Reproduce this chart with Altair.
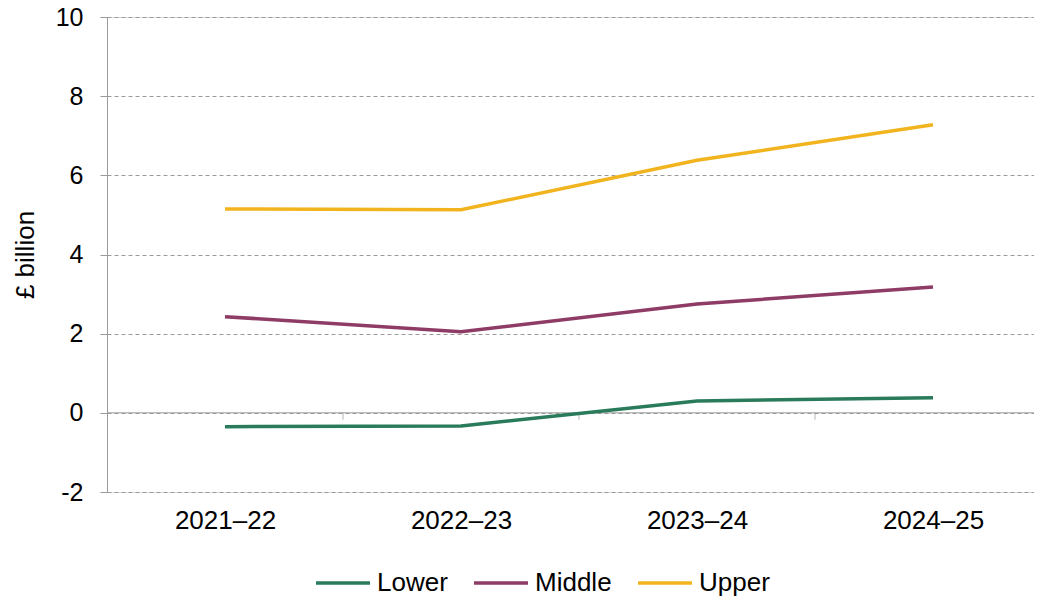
import altair as alt
import pandas as pd

years = ["2021–22", "2022–23", "2023–24", "2024–25"]
series = ["Lower", "Middle", "Upper"]
lower = [-0.35, -0.33, 0.30, 0.38]
middle = [2.43, 2.05, 2.75, 3.18]
upper = [5.15, 5.13, 6.38, 7.28]
colors = ["#2A7B5B", "#8E3B65", "#F2B41E"]
y_ticks = [-2, 0, 2, 4, 6, 8, 10]

rows = []
for name, vals in zip(series, [lower, middle, upper]):
    for i, (yr, v) in enumerate(zip(years, vals)):
        rows.append({"idx": i, "year": yr, "series": name, "value": v})
df = pd.DataFrame(rows)
tick_df = pd.DataFrame({"idx": list(range(1, len(years)))})
zero_df = pd.DataFrame({"value": [0]})

FONT = "Liberation Sans"
GRAY = "#9a9a9a"
W, H = 927, 475
STEP = 236  # pixel width of one category slot
x_max = -0.5 + W / STEP

label_expr = "[" + ",".join("'%s'" % y for y in years) + "][datum.value]"

xscale = alt.Scale(domain=[-0.5, x_max], nice=False, zero=False)
yscale = alt.Scale(domain=[-2, 10], nice=False, zero=False)

x_axis = alt.Axis(title=None, domain=False, ticks=False, grid=False, labelAngle=0,
                  values=list(range(len(years))), labelExpr=label_expr,
                  labelAlign="center", labelPadding=15, labelFontSize=26,
                  labelFont=FONT, labelColor="#000000", labelFlush=False,
                  labelOverlap=False)

lines = alt.Chart(df).mark_line(strokeWidth=3.5).encode(
    x=alt.X("idx:Q", scale=xscale, axis=x_axis),
    y=alt.Y("value:Q", scale=yscale,
            axis=alt.Axis(title="£ billion", values=y_ticks, grid=True, gridDash=[4, 3],
                          gridColor=GRAY, gridWidth=1, domainColor=GRAY, tickColor=GRAY,
                          tickSize=7, labelPadding=17, labelFontSize=25, labelFont=FONT,
                          labelExpr="'' + datum.value",
                          labelColor="#000000", titleFont=FONT, titleFontSize=26,
                          titleFontWeight="normal", titleColor="#000000",
                          titleX=-82, titleY=H / 2, titleAlign="center",
                          titleBaseline="middle", titleAngle=270)),
    color=alt.Color("series:N", scale=alt.Scale(domain=series, range=colors),
                    legend=alt.Legend(title=None, orient="none", legendX=207, legendY=537,
                                      direction="horizontal", symbolType="stroke",
                                      symbolSize=2916, symbolStrokeWidth=3.5,
                                      labelFontSize=26, labelFont=FONT, labelColor="#000000",
                                      columnPadding=19, labelOffset=5)),
)

zero = alt.Chart(zero_df).mark_rule(color=GRAY, strokeWidth=1).encode(
    y=alt.Y("value:Q", scale=yscale)
)

ticks = alt.Chart(tick_df).transform_calculate(
    edge="datum.idx - 0.5"
).mark_tick(orient="vertical", size=7, thickness=1, color=GRAY, yOffset=3.5).encode(
    x=alt.X("edge:Q", scale=xscale, axis=x_axis),
    y=alt.datum(0),
)

chart = alt.layer(zero, ticks, lines).properties(
    width=W, height=H,
    autosize=alt.AutoSizeParams(type="none"),
    padding={"left": 99, "top": 9, "right": 0, "bottom": 105},
).configure_view(stroke=None).configure(font=FONT)

chart.save("out.html", embed_options={"renderer": "svg", "actions": False})
